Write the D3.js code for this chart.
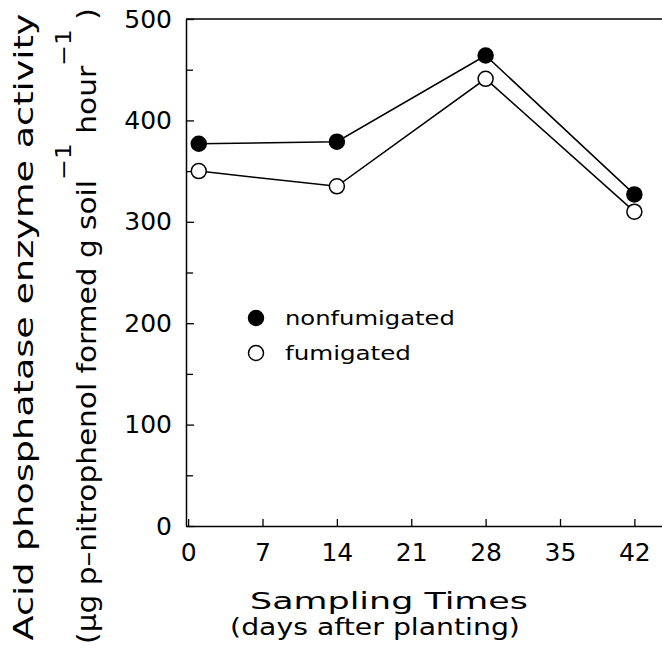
<!DOCTYPE html>
<html>
<head>
<meta charset="utf-8">
<script src="https://cdn.jsdelivr.net/npm/d3@7"></script>
<style>
  body { margin: 0; background: #fff; }
  text { font-family: "DejaVu Sans", sans-serif; fill: #000; }
</style>
</head>
<body>
<div id="content"></div>
<script>
// sampling days and enzyme activity
var days = [1, 14, 28, 42];
var nonfumigated = [377, 379, 464, 327];
var fumigated = [350, 335, 441, 310];
var xTicks = [0, 7, 14, 21, 28, 35, 42];
var yTicks = [0, 100, 200, 300, 400, 500];
var yMinor = [50, 150, 250, 350, 450];

var width = 662, height = 650;
var margin = {top: 19, right: 0, bottom: 124, left: 186};

var svg = d3.select('#content').append("svg")
  .attr("width", width)
  .attr("height", height);

var x_scale = d3.scaleLinear().domain([-0.2, 44.6]).range([margin.left, width - margin.right]);
var y_scale = d3.scaleLinear().domain([0, 500]).range([height - margin.bottom, margin.top]);

// the original face is wide, so stretch glyphs horizontally to the measured length
function stretch(sel, target, base) {
  var w = sel.node().getComputedTextLength();
  sel.attr("transform", base + " scale(" + (target / w) + ",1)");
}

var g = svg.append("g");

var xAxis = g.append("g")
  .attr("transform", "translate(0," + y_scale(0) + ")")
  .call(d3.axisBottom(x_scale).tickValues(xTicks).tickSizeInner(-7).tickSizeOuter(0).tickPadding(17));
xAxis.selectAll("text").style("font-size", "25px");

var yAxis = g.append("g")
  .attr("transform", "translate(" + margin.left + ",0)")
  .call(d3.axisLeft(y_scale).tickValues(yTicks).tickSizeInner(-8).tickSizeOuter(0).tickPadding(14));
yAxis.selectAll("text").style("font-size", "25px");

g.append("g")
  .attr("transform", "translate(" + margin.left + ",0)")
  .call(d3.axisLeft(y_scale).tickValues(yMinor).tickSizeInner(-7).tickSizeOuter(0).tickFormat(""))
  .select(".domain").remove();

g.append("line")
  .attr("x1", margin.left).attr("x2", width)
  .attr("y1", y_scale(500)).attr("y2", y_scale(500))
  .attr("stroke", "#000").attr("stroke-width", 1.5);

g.selectAll(".domain").attr("stroke-width", 1.5);
g.selectAll(".tick line").attr("stroke-width", 1.3);

// series
var line = d3.line()
  .x(function(d) { return x_scale(d[0]); })
  .y(function(d) { return y_scale(d[1]); });

var series = [
  {name: "nonfumigated", values: nonfumigated, fill: "#000", w: 170},
  {name: "fumigated", values: fumigated, fill: "#fff", w: 126}
];

series.forEach(function(s) {
  var pts = days.map(function(d, i) { return [d, s.values[i]]; });
  g.append("path")
    .datum(pts)
    .attr("d", line)
    .attr("fill", "none")
    .attr("stroke", "#000")
    .attr("stroke-width", 1.5);
});

series.forEach(function(s) {
  g.selectAll(null)
    .data(days.map(function(d, i) { return [d, s.values[i]]; }))
    .enter()
    .append("circle")
    .attr("cx", function(d) { return x_scale(d[0]); })
    .attr("cy", function(d) { return y_scale(d[1]); })
    .attr("r", 7.5)
    .attr("fill", s.fill)
    .attr("stroke", "#000")
    .attr("stroke-width", 1.5);
});

// legend
var legend = g.append("g").attr("transform", "translate(256,318)");
series.forEach(function(s, i) {
  legend.append("circle")
    .attr("cx", 0).attr("cy", i * 35)
    .attr("r", 7.5)
    .attr("fill", s.fill)
    .attr("stroke", "#000")
    .attr("stroke-width", 1.5);
  var t = legend.append("text")
    .style("font-size", "19px")
    .text(s.name);
  stretch(t, s.w, "translate(29," + (i * 35 + 7) + ")");
});

// axis titles
var xt1 = svg.append("text")
  .attr("text-anchor", "middle")
  .style("font-size", "23px")
  .text("Sampling Times");
stretch(xt1, 278, "translate(389,609)");
var xt2 = svg.append("text")
  .attr("text-anchor", "middle")
  .style("font-size", "23px")
  .text("(days after planting)");
stretch(xt2, 290, "translate(375,635)");

var yt1 = svg.append("text")
  .attr("text-anchor", "middle")
  .style("font-size", "26px")
  .text("Acid phosphatase enzyme activity");
stretch(yt1, 627, "translate(33,327) rotate(-90)");

var yt2 = svg.append("text")
  .attr("text-anchor", "middle")
  .style("font-size", "26px");
yt2.append("tspan").text("(\u00b5g p\u2013nitrophenol formed g soil");
yt2.append("tspan").attr("dy", -25).style("font-size", "22px").text("\u22121");
yt2.append("tspan").attr("dy", 25).text(" hour");
yt2.append("tspan").attr("dy", -25).style("font-size", "22px").text("\u22121");
yt2.append("tspan").attr("dy", 25).text(" )");
stretch(yt2, 636, "translate(96,326) rotate(-90)");
</script>
</body>
</html>
